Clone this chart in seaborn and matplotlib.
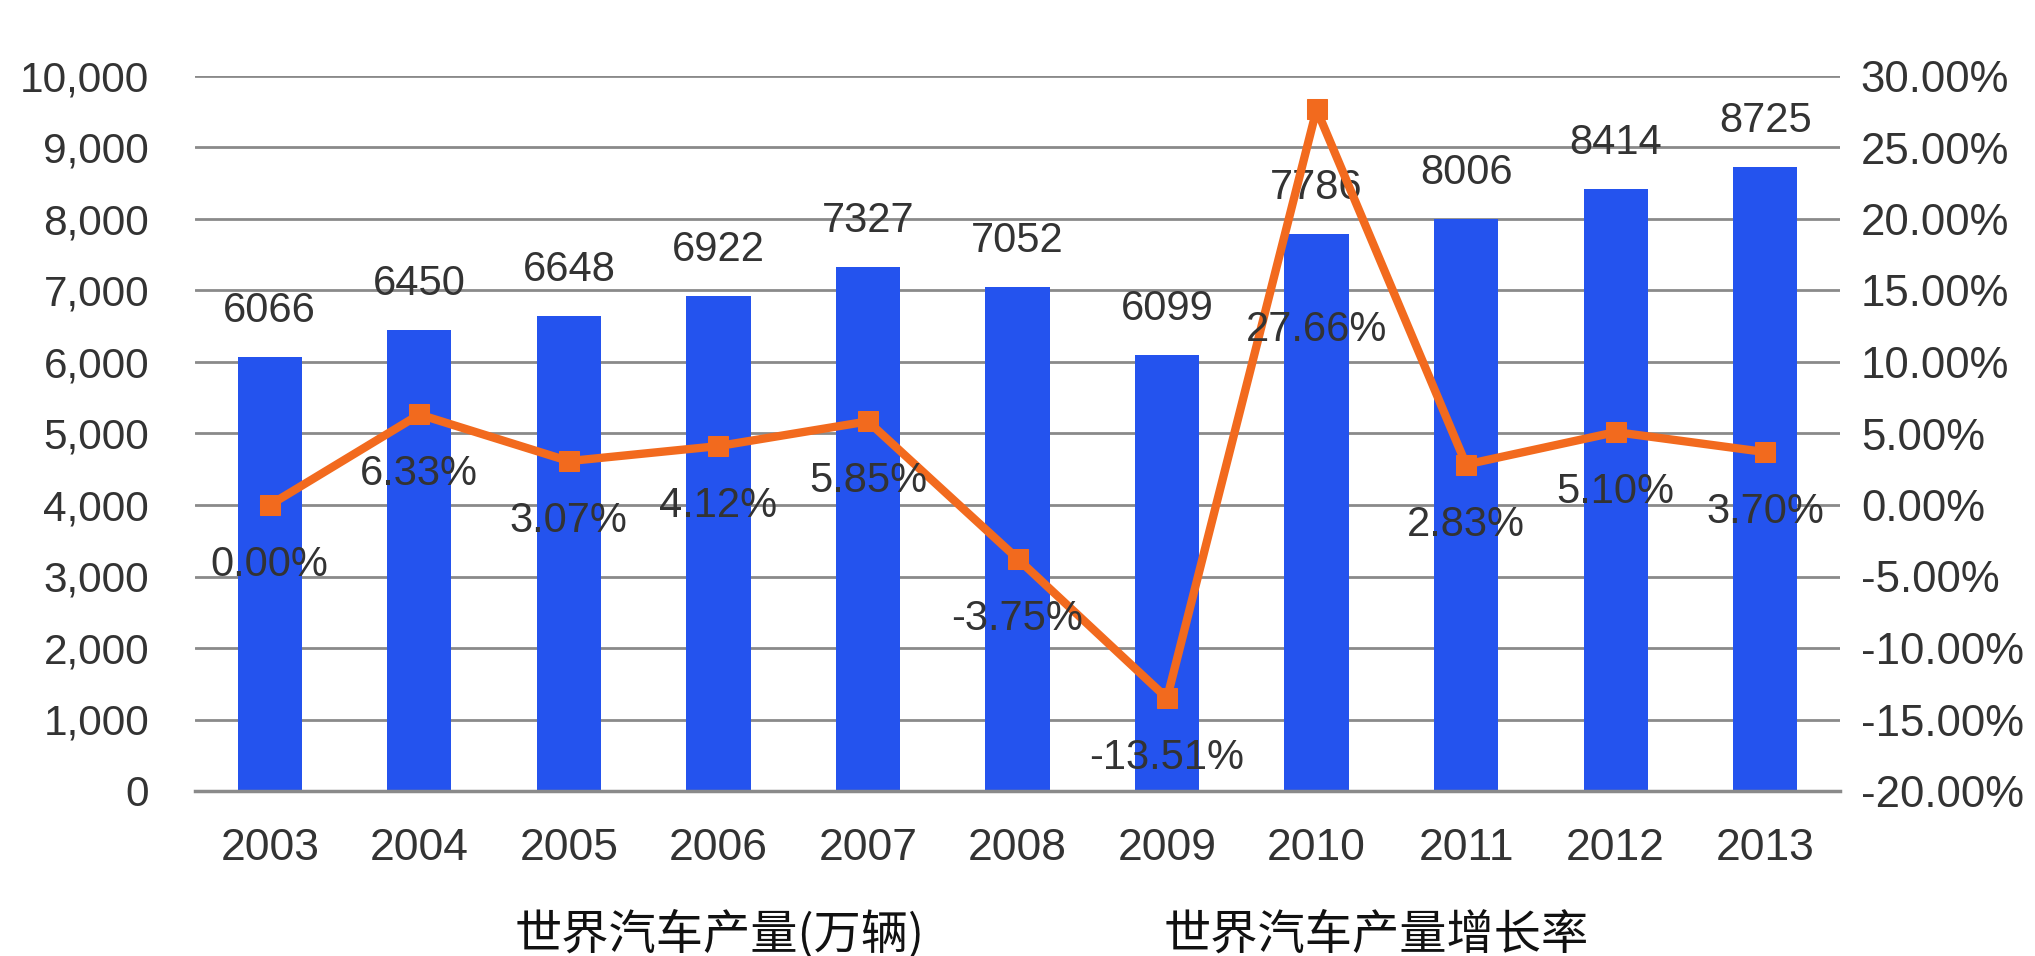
import numpy as np
import pandas as pd
import matplotlib
matplotlib.use("Agg")
import matplotlib.pyplot as plt
import seaborn as sns

years = ["2003", "2004", "2005", "2006", "2007", "2008", "2009", "2010", "2011", "2012", "2013"]
production = [6066, 6450, 6648, 6922, 7327, 7052, 6099, 7786, 8006, 8414, 8725]
growth = [0.00, 6.33, 3.07, 4.12, 5.85, -3.75, -13.51, 27.66, 2.83, 5.10, 3.70]
left_ticks = [0, 1000, 2000, 3000, 4000, 5000, 6000, 7000, 8000, 9000, 10000]
right_ticks = [-20, -15, -10, -5, 0, 5, 10, 15, 20, 25, 30]
legend_labels = ["世界汽车产量(万辆)", "世界汽车产量增长率"]

BAR_COLOR = "#2453EE"
LINE_COLOR = "#F26A1E"
TEXT_COLOR = "#333333"
GRID_COLOR = "#8a8a8a"

sns.set_theme(style="white")
plt.rcParams["font.family"] = ["Liberation Sans", "DejaVu Sans"]

W, H = 2035, 956
fig = plt.figure(figsize=(W / 100, H / 100), dpi=100)
L, R, T, B = 195, 1840, 76, 791
ax = fig.add_axes([L / W, 1 - B / H, (R - L) / W, (B - T) / H])

df = pd.DataFrame({"year": years, "production": production})
sns.barplot(data=df, x="year", y="production", ax=ax, color=BAR_COLOR,
            width=0.43, saturation=1, edgecolor="none", zorder=3)

ax.set_xlim(-0.5, len(years) - 0.5)
ax.set_ylim(0, 10000)
ax.set_yticks(left_ticks)
ax.set_yticklabels([f"{v:,}" for v in left_ticks])
ax.set_xlabel("")
ax.set_ylabel("")
ax.grid(False)
for v in left_ticks[1:]:
    ax.axhline(v, color=GRID_COLOR, lw=2, zorder=1)
for s in ["top", "left", "right"]:
    ax.spines[s].set_visible(False)
ax.spines["bottom"].set_color(GRID_COLOR)
ax.spines["bottom"].set_linewidth(2.5)
ax.spines["bottom"].set_zorder(4)
ax.tick_params(axis="y", length=0, pad=33, labelsize=30.5, labelcolor=TEXT_COLOR)
ax.tick_params(axis="x", which="major", length=0, pad=27, labelsize=32, labelcolor=TEXT_COLOR)
ax.set_xticks(np.arange(-0.5, len(years), 1.0), minor=True)
ax.tick_params(axis="x", which="minor", length=14, width=2.5, color=GRID_COLOR, direction="out")

for i, v in enumerate(production):
    ax.annotate(str(v), xy=(i, v), xytext=(0, 46), textcoords="offset pixels",
                ha="center", va="center", fontsize=30, color=TEXT_COLOR, zorder=6)

ax2 = ax.twinx()
sns.lineplot(x=np.arange(len(years)), y=growth, ax=ax2, color=LINE_COLOR,
             linewidth=6, marker="s", markersize=14, markeredgecolor=LINE_COLOR, zorder=5)
ax2.set_ylim(-20, 30)
ax2.set_yticks(right_ticks)
ax2.set_yticklabels([f"{v:.2f}%" for v in right_ticks])
ax2.tick_params(axis="y", length=0, pad=15, labelsize=31.5, labelcolor=TEXT_COLOR)
ax2.set_ylabel("")
ax2.grid(False)
for s in ["top", "left", "right", "bottom"]:
    ax2.spines[s].set_visible(False)

for i, g in enumerate(growth):
    off = -221 if g == max(growth) else -60
    ax2.annotate(f"{g:.2f}%", xy=(i, g), xytext=(0, off), textcoords="offset pixels",
                 ha="center", va="center", fontsize=30, color=TEXT_COLOR, zorder=7)

fig.text(720 / W, 1 - 935 / H, legend_labels[0], ha="center", va="center",
         fontsize=34, color="#111111", family=["Noto Sans CJK SC", "DejaVu Sans"])
fig.text(1376 / W, 1 - 935 / H, legend_labels[1], ha="center", va="center",
         fontsize=34, color="#111111", family=["Noto Sans CJK SC", "DejaVu Sans"])

fig.savefig("out.png", dpi=100, facecolor="white")
